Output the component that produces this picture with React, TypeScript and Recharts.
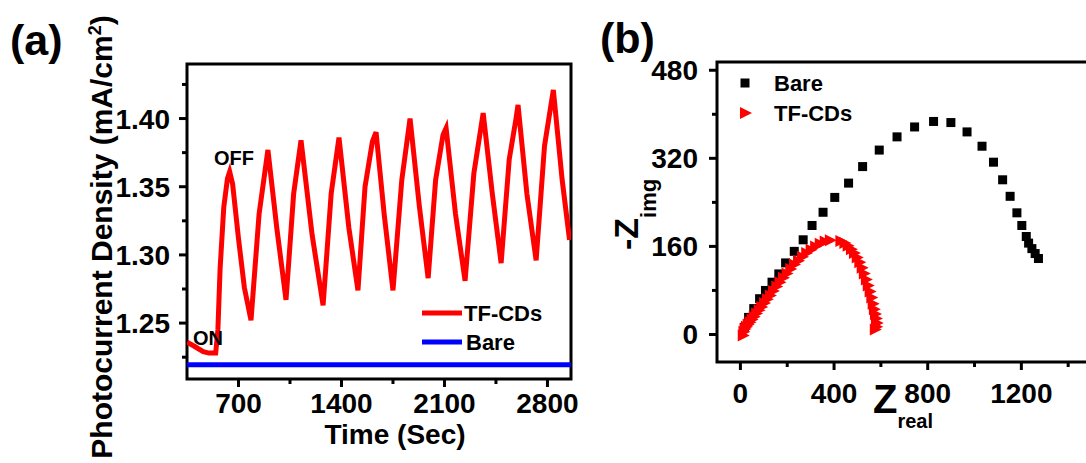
import React from 'react';
import { LineChart, Line, XAxis, YAxis, ReferenceArea, ScatterChart, Scatter } from 'recharts';

const FONT = '"Liberation Sans", Arial, sans-serif';

// (a) photocurrent vs time
const timeSec = [350, 400, 460, 500, 545, 560, 575, 600, 625, 640, 660, 700, 740, 785, 840, 900, 960, 1023, 1075, 1125, 1200, 1275, 1330, 1383, 1450, 1512, 1560, 1610, 1635, 1690, 1750, 1810, 1866, 1930, 1989, 2040, 2090, 2111, 2175, 2240, 2300, 2363, 2425, 2485, 2540, 2585, 2600, 2660, 2723, 2780, 2840, 2900, 2950];
const tfCdsCurrent = [1.236, 1.233, 1.229, 1.228, 1.228, 1.245, 1.290, 1.335, 1.356, 1.361, 1.352, 1.312, 1.276, 1.252, 1.330, 1.377, 1.320, 1.267, 1.345, 1.384, 1.315, 1.263, 1.345, 1.386, 1.320, 1.274, 1.350, 1.383, 1.390, 1.330, 1.274, 1.355, 1.400, 1.335, 1.283, 1.355, 1.388, 1.393, 1.330, 1.281, 1.360, 1.404, 1.345, 1.294, 1.370, 1.399, 1.410, 1.345, 1.296, 1.380, 1.421, 1.355, 1.311];
const bareTime = [350, 2960];
const bareCurrent = [1.2195, 1.2195];
const aXDomain = [350, 2960];
const aYDomain = [1.209, 1.44];
const aXMajor = [700, 1400, 2100, 2800];
const aXMinor = [1050, 1750, 2450];
const aYMajor = [1.25, 1.3, 1.35, 1.4];
const aYMinor = [1.225, 1.275, 1.325, 1.375, 1.425];

// (b) Nyquist plot
const bareZreal = [17, 35, 57, 82, 107, 135, 164, 193, 230, 268, 306, 353, 403, 462, 522, 593, 669, 744, 825, 899, 968, 1032, 1081, 1120, 1152, 1181, 1202, 1221, 1231, 1245, 1259, 1273];
const bareZimg = [13, 31, 47, 65, 80, 95, 110, 130, 151, 172, 198, 222, 249, 275, 305, 335, 359, 377, 387, 385, 368, 342, 313, 281, 251, 221, 198, 178, 166, 156, 147, 138];
const tfZreal = [10, 13, 18, 24, 31, 39, 48, 57, 67, 78, 89, 101, 113, 126, 139, 153, 167, 182, 197, 213, 229, 246, 263, 281, 300, 319, 339, 360, 382, 427, 444, 458, 472, 485, 497, 508, 518, 527, 536, 544, 552, 559, 565, 570, 575, 579, 582, 580, 574];
const tfZimg = [-2, 5, 10, 14, 18, 22, 27, 32, 38, 44, 50, 57, 64, 71, 79, 87, 95, 103, 111, 119, 127, 134, 141, 148, 154, 160, 165, 169, 171, 170, 166, 161, 155, 148, 140, 131, 121, 111, 100, 89, 78, 67, 56, 46, 37, 29, 21, 14, 9];
const bXDomain = [-100, 1600];
const bYDomain = [-50, 495];
const bXMajor = [0, 400, 800, 1200];
const bXMinor = [200, 600, 1000, 1400];
const bYMajor = [0, 160, 320, 480];
const bYMinor = [80, 240, 400];

const tfCdsData = timeSec.map((t, i) => ({ t, v: tfCdsCurrent[i] }));
const bareData = bareTime.map((t, i) => ({ t, v: bareCurrent[i] }));
const bareNyq = bareZreal.map((x, i) => ({ x, y: bareZimg[i] }));
const tfNyq = tfZreal.map((x, i) => ({ x, y: tfZimg[i] }));

const isMajor = (majors: number[], v: number) => majors.some((m) => Math.abs(m - v) < 1e-9);

const makeXTick = (majors: number[], labelDy: number, fmt: (v: number) => string) => (props: any) => {
  const { x, y, payload } = props;
  const major = isMajor(majors, payload.value);
  return (
    <g>
      <line x1={x} x2={x} y1={y} y2={y + (major ? 8 : 5)} stroke="#000" strokeWidth={3} />
      {major && (
        <text x={x} y={y + labelDy} textAnchor="middle" fontSize={28} fontWeight="bold" fontFamily={FONT} fill="#000">
          {fmt(payload.value)}
        </text>
      )}
    </g>
  );
};

const makeYTick = (majors: number[], labelDx: number, fmt: (v: number) => string) => (props: any) => {
  const { x, y, payload } = props;
  const major = isMajor(majors, payload.value);
  return (
    <g>
      <line x1={x} x2={x - (major ? 8 : 5)} y1={y} y2={y} stroke="#000" strokeWidth={3} />
      {major && (
        <text x={x - labelDx} y={y + 10} textAnchor="end" fontSize={28} fontWeight="bold" fontFamily={FONT} fill="#000">
          {fmt(payload.value)}
        </text>
      )}
    </g>
  );
};

const SquareShape = (props: any) => {
  const { cx, cy } = props;
  return <rect x={cx - 4.5} y={cy - 4.5} width={9} height={9} fill="#000" />;
};

const TriangleShape = (props: any) => {
  const { cx, cy } = props;
  return <polygon points={`${cx - 5},${cy - 6} ${cx + 7},${cy} ${cx - 5},${cy + 6}`} fill="#ff0000" />;
};

const txt = { fontFamily: FONT, fontWeight: 'bold' as const, fill: '#000' };

export default function App() {
  return (
    <div style={{ position: 'absolute', left: 0, top: 0, width: 1086, height: 463, overflow: 'hidden', background: '#fff' }}>
      <div style={{ position: 'absolute', left: 0, top: 0 }}>
        <LineChart width={600} height={463} margin={{ top: 64, right: 29, bottom: 54, left: 127 }}>
          <XAxis
            type="number"
            dataKey="t"
            domain={aXDomain}
            allowDataOverflow
            ticks={[...aXMajor, ...aXMinor]}
            interval={0}
            height={30}
            tickSize={0}
            tickMargin={0}
            axisLine={false}
            tickLine={false}
            tick={makeXTick(aXMajor, 34, (v) => String(v))}
          />
          <YAxis
            type="number"
            dataKey="v"
            domain={aYDomain}
            allowDataOverflow
            ticks={[...aYMajor, ...aYMinor]}
            interval={0}
            width={60}
            tickSize={0}
            tickMargin={0}
            axisLine={false}
            tickLine={false}
            tick={makeYTick(aYMajor, 17, (v) => v.toFixed(2))}
          />
          <Line data={bareData} dataKey="v" stroke="#0000ff" strokeWidth={5} dot={false} type="linear" isAnimationActive={false} />
          <Line data={tfCdsData} dataKey="v" stroke="#ff0000" strokeWidth={5} dot={false} type="linear" isAnimationActive={false} />
          <ReferenceArea x1={aXDomain[0]} x2={aXDomain[1]} y1={aYDomain[0]} y2={aYDomain[1]} fill="none" stroke="#000" strokeWidth={3} fillOpacity={0} ifOverflow="visible" />
        </LineChart>
      </div>

      <div style={{ position: 'absolute', left: 600, top: 0 }}>
        <ScatterChart width={520} height={463} margin={{ top: 62, right: 5, bottom: 71, left: 57 }}>
          <XAxis
            type="number"
            dataKey="x"
            domain={bXDomain}
            allowDataOverflow
            ticks={[...bXMajor, ...bXMinor]}
            interval={0}
            height={30}
            tickSize={0}
            tickMargin={0}
            axisLine={false}
            tickLine={false}
            tick={makeXTick(bXMajor, 41, (v) => String(v))}
          />
          <YAxis
            type="number"
            dataKey="y"
            domain={bYDomain}
            allowDataOverflow
            ticks={[...bYMajor, ...bYMinor]}
            interval={0}
            width={60}
            tickSize={0}
            tickMargin={0}
            axisLine={false}
            tickLine={false}
            tick={makeYTick(bYMajor, 19, (v) => String(v))}
          />
          <Scatter data={bareNyq} shape={SquareShape} isAnimationActive={false} />
          <Scatter data={tfNyq} shape={TriangleShape} isAnimationActive={false} />
          <ReferenceArea x1={bXDomain[0]} x2={bXDomain[1]} y1={bYDomain[0]} y2={bYDomain[1]} fill="none" stroke="#000" strokeWidth={3} fillOpacity={0} ifOverflow="visible" />
        </ScatterChart>
      </div>

      <svg width={1086} height={463} style={{ position: 'absolute', left: 0, top: 0, pointerEvents: 'none' }}>
        {/* panel (a) */}
        <text x={10} y={55} fontSize={43} {...txt}>(a)</text>
        <text transform="translate(112,237) rotate(-90)" textAnchor="middle" fontSize={30} {...txt}>
          Photocurrent Density (mA/cm<tspan dy={-11} fontSize={18}>2</tspan><tspan dy={11}>)</tspan>
        </text>
        <text x={395} y={444} textAnchor="middle" fontSize={28} {...txt}>Time (Sec)</text>
        <text x={214} y={165} fontSize={20} {...txt}>OFF</text>
        <text x={193} y={345} fontSize={20} {...txt}>ON</text>
        <line x1={422} x2={462} y1={313} y2={313} stroke="#ff0000" strokeWidth={5} />
        <text x={464} y={321} fontSize={22} {...txt}>TF-CDs</text>
        <line x1={422} x2={462} y1={342} y2={342} stroke="#0000ff" strokeWidth={5} />
        <text x={466} y={350} fontSize={22} {...txt}>Bare</text>

        {/* panel (b) */}
        <text x={600} y={53} fontSize={43} {...txt}>(b)</text>
        <text transform="translate(638,250) rotate(-90)" fontSize={34} {...txt}>
          -Z<tspan dy={18} fontSize={22}>img</tspan>
        </text>
        <text x={873} y={413} fontSize={40} {...txt}>
          Z<tspan dy={15} fontSize={20}>real</tspan>
        </text>
        <rect x={740.5} y={78.5} width={9} height={9} fill="#000" />
        <text x={774} y={91} fontSize={22} {...txt}>Bare</text>
        <polygon points="740,107 752,113 740,119" fill="#ff0000" />
        <text x={774} y={121} fontSize={22} {...txt}>TF-CDs</text>
      </svg>
    </div>
  );
}
